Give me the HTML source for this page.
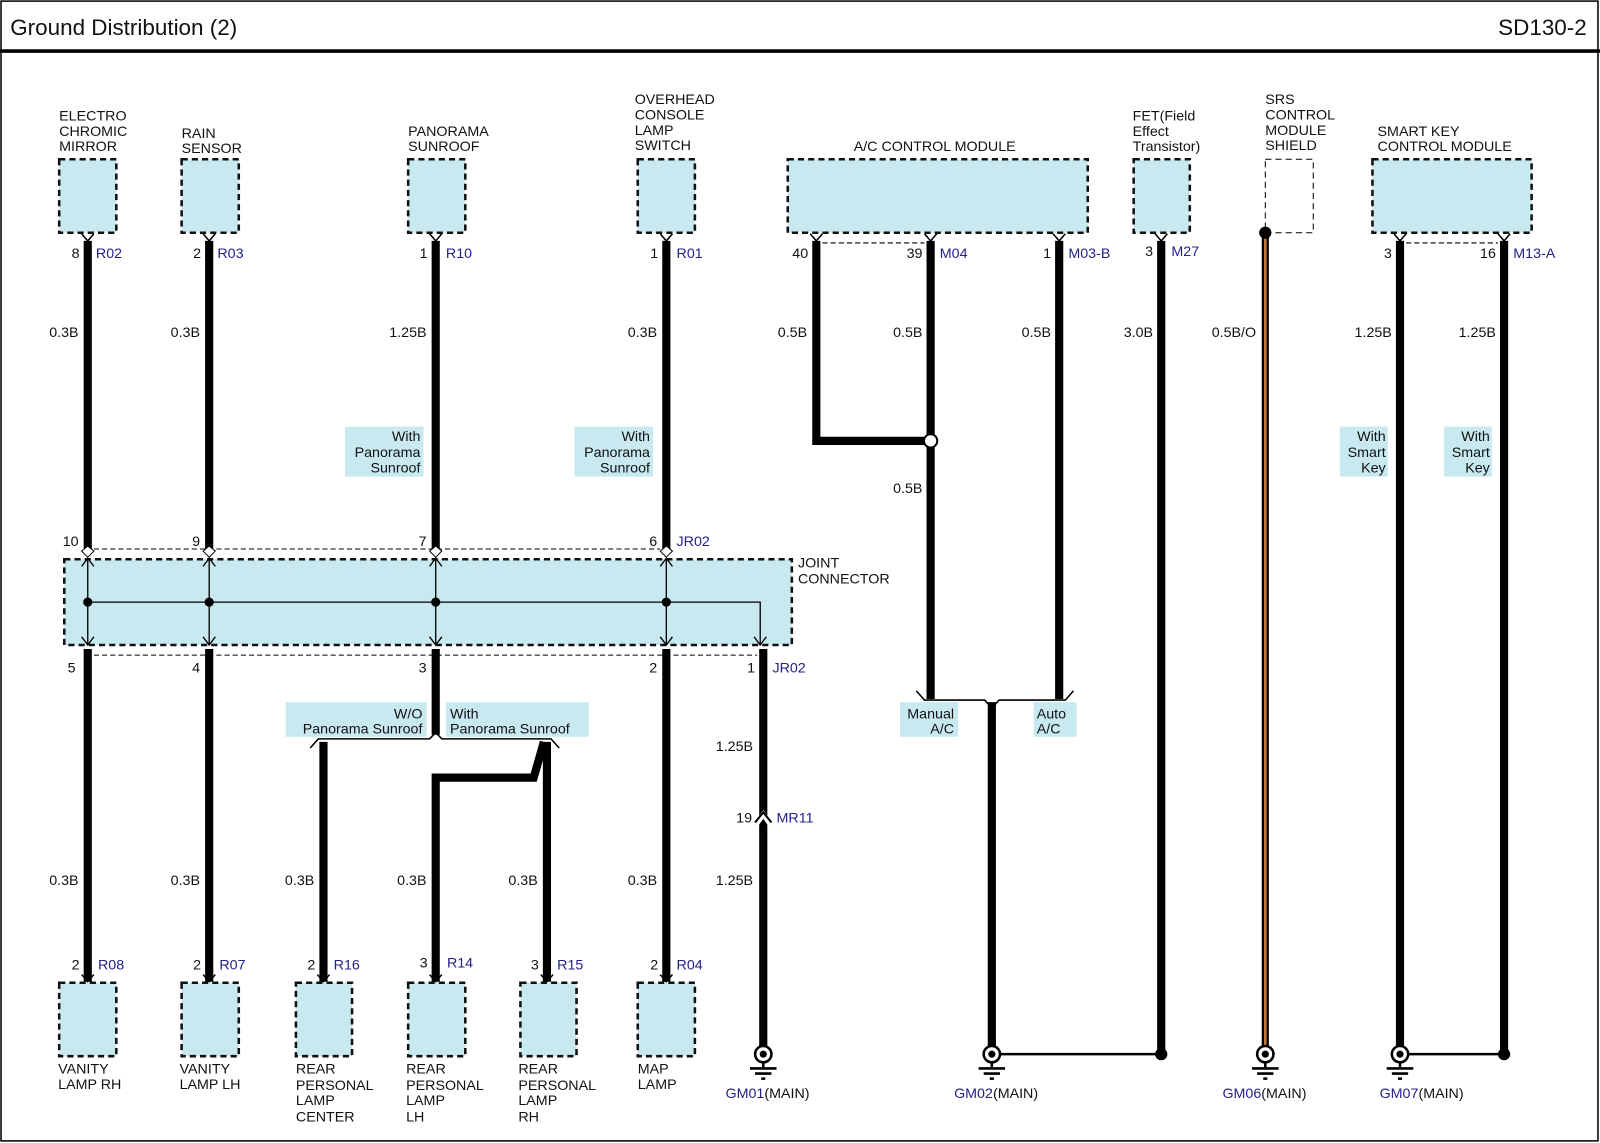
<!DOCTYPE html>
<html><head><meta charset="utf-8"><style>
html,body{margin:0;padding:0;background:#fff}
svg{display:block}
text{font-family:"Liberation Sans",Arial,sans-serif;font-size:14px;fill:#111}
.b{fill:#22228a}
.r{text-anchor:end}
.m{text-anchor:middle}
.box{fill:#c9e9f1;stroke:#111;stroke-width:2.5;stroke-dasharray:6,4}
.lb{fill:#c9e9f1}
.w{stroke:#000;stroke-width:8;fill:none}
.t{stroke:#000;stroke-width:1.3;fill:none}
.dl{stroke:#000;stroke-width:1;stroke-dasharray:5,3;fill:none}
</style></head><body>
<svg width="1600" height="1143" viewBox="0 0 1568 1120" xmlns="http://www.w3.org/2000/svg">
<rect x="1" y="1" width="1565" height="1117" fill="none" stroke="#000" stroke-width="1.5"/>
<line x1="0" y1="50" x2="1568" y2="50" stroke="#000" stroke-width="3.5"/>
<text x="10" y="34" style="font-size:22px">Ground Distribution (2)</text>
<text x="1555" y="34" class="r" style="font-size:22px">SD130-2</text>

<!-- top components -->
<g>
<text x="58" y="118">ELECTRO</text><text x="58" y="133">CHROMIC</text><text x="58" y="148">MIRROR</text>
<rect class="box" x="58" y="156" width="56" height="72"/>
<text x="178" y="135">RAIN</text><text x="178" y="150">SENSOR</text>
<rect class="box" x="178" y="156" width="56" height="72"/>
<text x="400" y="133">PANORAMA</text><text x="400" y="148">SUNROOF</text>
<rect class="box" x="400" y="156" width="56" height="72"/>
<text x="622" y="102">OVERHEAD</text><text x="622" y="117">CONSOLE</text><text x="622" y="132">LAMP</text><text x="622" y="147">SWITCH</text>
<rect class="box" x="625" y="156" width="56" height="72"/>
<text x="916" y="148" class="m">A/C CONTROL MODULE</text>
<rect class="box" x="772" y="156" width="294" height="72"/>
<text x="1110" y="118">FET(Field</text><text x="1110" y="133">Effect</text><text x="1110" y="148">Transistor)</text>
<rect class="box" x="1111" y="156" width="55" height="72"/>
<text x="1240" y="102">SRS</text><text x="1240" y="117">CONTROL</text><text x="1240" y="132">MODULE</text><text x="1240" y="147">SHIELD</text>
<rect x="1240" y="156" width="47" height="72" fill="#fff" stroke="#000" stroke-width="1" stroke-dasharray:="" style="stroke-dasharray:6,4"/>
<text x="1350" y="133">SMART KEY</text><text x="1350" y="148">CONTROL MODULE</text>
<rect class="box" x="1345" y="156" width="156" height="72"/>
</g>

<!-- top pin chevrons -->
<g class="t" style="stroke-width:1.5">
<path d="M80,229 L86,236 L92,229"/><path d="M199,229 L205,236 L211,229"/><path d="M421,229 L427,236 L433,229"/><path d="M647,229 L653,236 L659,229"/>
<path d="M794,229 L800,236 L806,229"/><path d="M906,229 L912,236 L918,229"/><path d="M1032,229 L1038,236 L1044,229"/><path d="M1132,229 L1138,236 L1144,229"/>
<path d="M1366,229 L1372,236 L1378,229"/><path d="M1468,229 L1474,236 L1480,229"/>
</g>
<path class="dl" d="M806,238 H906 M1378,238 H1468"/>

<!-- pin labels top -->
<text x="78" y="253" class="r">8</text><text x="94" y="253" class="b">R02</text>
<text x="197" y="253" class="r">2</text><text x="213" y="253" class="b">R03</text>
<text x="419" y="253" class="r">1</text><text x="437" y="253" class="b">R10</text>
<text x="645" y="253" class="r">1</text><text x="663" y="253" class="b">R01</text>
<text x="792" y="253" class="r">40</text>
<text x="904" y="253" class="r">39</text><text x="921" y="253" class="b">M04</text>
<text x="1030" y="253" class="r">1</text><text x="1047" y="253" class="b">M03-B</text>
<text x="1130" y="251" class="r">3</text><text x="1148" y="251" class="b">M27</text>
<text x="1364" y="253" class="r">3</text>
<text x="1466" y="253" class="r">16</text><text x="1483" y="253" class="b">M13-A</text>

<!-- wire size labels -->
<text x="77" y="330" class="r">0.3B</text><text x="196" y="330" class="r">0.3B</text><text x="418" y="330" class="r">1.25B</text><text x="644" y="330" class="r">0.3B</text>
<text x="791" y="330" class="r">0.5B</text><text x="904" y="330" class="r">0.5B</text><text x="1030" y="330" class="r">0.5B</text><text x="1130" y="330" class="r">3.0B</text>
<text x="1231" y="330" class="r">0.5B/O</text><text x="1364" y="330" class="r">1.25B</text><text x="1466" y="330" class="r">1.25B</text>
<text x="904" y="483" class="r">0.5B</text>

<!-- option boxes -->
<rect class="lb" x="338" y="418" width="77" height="49"/>
<text x="412" y="432" class="r">With</text><text x="412" y="448" class="r">Panorama</text><text x="412" y="463" class="r">Sunroof</text>
<rect class="lb" x="563" y="418" width="77" height="49"/>
<text x="637" y="432" class="r">With</text><text x="637" y="448" class="r">Panorama</text><text x="637" y="463" class="r">Sunroof</text>
<rect class="lb" x="1313" y="418" width="47" height="49"/>
<text x="1358" y="432" class="r">With</text><text x="1358" y="448" class="r">Smart</text><text x="1358" y="463" class="r">Key</text>
<rect class="lb" x="1415" y="418" width="47" height="49"/>
<text x="1460" y="432" class="r">With</text><text x="1460" y="448" class="r">Smart</text><text x="1460" y="463" class="r">Key</text>

<!-- top wires -->
<path class="w" d="M86,236 V540 M205,236 V540 M427,236 V540 M653,236 V540"/>
<path class="w" d="M800,236 V432 H912"/>
<path class="w" d="M912,236 V685 M1038,236 V685 M1138,236 V1033 M1372,236 V1033 M1474,236 V1033 M972,688 V1033"/>
<line x1="1240" y1="228" x2="1240" y2="1030" stroke="#000" stroke-width="7"/>
<line x1="1240" y1="228" x2="1240" y2="1030" stroke="#c87a3e" stroke-width="2.5"/>
<circle cx="1240" cy="228" r="6" fill="#000"/>
<circle cx="912" cy="432" r="6.5" fill="#fff" stroke="#000" stroke-width="2"/>

<!-- A/C bracket -->
<path class="t" style="stroke-width:1.5" d="M898,677 L906,686 H965 L972,694 L979,686 H1044 L1052,677"/>
<rect class="lb" x="882" y="688" width="57" height="34"/>
<text x="935" y="704" class="r">Manual</text><text x="935" y="719" class="r">A/C</text>
<rect class="lb" x="1013" y="688" width="42" height="34"/>
<text x="1016" y="704">Auto</text><text x="1016" y="719">A/C</text>

<!-- joint connector -->
<text x="782" y="556">JOINT</text><text x="782" y="572">CONNECTOR</text>
<path class="dl" d="M92,538 H647 M92,642 H742"/>
<rect class="box" x="63" y="548" width="713" height="84"/>
<text x="77" y="535" class="r">10</text><text x="196" y="535" class="r">9</text><text x="418" y="535" class="r">7</text><text x="644" y="535" class="r">6</text><text x="663" y="535" class="b">JR02</text>
<text x="74" y="659" class="r">5</text><text x="196" y="659" class="r">4</text><text x="418" y="659" class="r">3</text><text x="644" y="659" class="r">2</text><text x="740" y="659" class="r">1</text><text x="757" y="659" class="b">JR02</text>
<g class="t">
<path d="M86,548 V632 M205,548 V632 M427,548 V632 M653,548 V632 M86,590 H745 V632"/>
<path d="M80,555 L86,547 L92,555 M199,555 L205,547 L211,555 M421,555 L427,547 L433,555 M647,555 L653,547 L659,555"/>
<path d="M80,624 L86,632 L92,624 M199,624 L205,632 L211,624 M421,624 L427,632 L433,624 M647,624 L653,632 L659,624 M739,624 L745,632 L751,624"/>
</g>
<g fill="#000"><circle cx="86" cy="590" r="4.5"/><circle cx="205" cy="590" r="4.5"/><circle cx="427" cy="590" r="4.5"/><circle cx="653" cy="590" r="4.5"/></g>
<g fill="#fff" stroke="#000" stroke-width="1">
<path d="M80,540 L86,535 L92,540 L86,546Z"/><path d="M199,540 L205,535 L211,540 L205,546Z"/><path d="M421,540 L427,535 L433,540 L427,546Z"/><path d="M647,540 L653,535 L659,540 L653,546Z"/>
</g>

<!-- bottom wires -->
<path class="w" d="M86,636 V962 M205,636 V962 M653,636 V962 M427,636 V720 M748,636 V1033"/>
<path class="w" d="M317,727 V962 M536,727 V962 M533,727 L523,762 H427 V962"/>
<path class="t" style="stroke-width:1.5" d="M304,733 L312,724 H421 L427,718 L433,724 H540 L548,733"/>
<rect class="lb" x="280" y="688" width="138" height="34"/>
<text x="414" y="704" class="r">W/O</text><text x="414" y="719" class="r">Panorama Sunroof</text>
<rect class="lb" x="437" y="688" width="140" height="34"/>
<text x="441" y="704">With</text><text x="441" y="719">Panorama Sunroof</text>
<!-- MR11 -->
<path d="M741,808 L748,798 L755,808" fill="none" stroke="#fff" stroke-width="5"/>
<path d="M740,806 L748,796 L756,806" fill="none" stroke="#000" stroke-width="2"/>
<text x="737" y="806" class="r">19</text><text x="761" y="806" class="b">MR11</text>
<text x="738" y="736" class="r">1.25B</text><text x="738" y="867" class="r">1.25B</text>

<text x="77" y="867" class="r">0.3B</text><text x="196" y="867" class="r">0.3B</text><text x="308" y="867" class="r">0.3B</text><text x="418" y="867" class="r">0.3B</text><text x="527" y="867" class="r">0.3B</text><text x="644" y="867" class="r">0.3B</text>

<!-- bottom pin labels -->
<text x="78" y="950" class="r">2</text><text x="96" y="950" class="b">R08</text>
<text x="197" y="950" class="r">2</text><text x="215" y="950" class="b">R07</text>
<text x="309" y="950" class="r">2</text><text x="327" y="950" class="b">R16</text>
<text x="419" y="948" class="r">3</text><text x="438" y="948" class="b">R14</text>
<text x="528" y="950" class="r">3</text><text x="546" y="950" class="b">R15</text>
<text x="645" y="950" class="r">2</text><text x="663" y="950" class="b">R04</text>
<g class="t" style="stroke-width:1.5">
<path d="M80,955 L86,962 L92,955 M199,955 L205,962 L211,955 M311,955 L317,962 L323,955 M421,955 L427,962 L433,955 M530,955 L536,962 L542,955 M647,955 L653,962 L659,955"/>
</g>
<rect class="box" x="58" y="963" width="56" height="72"/>
<rect class="box" x="178" y="963" width="56" height="72"/>
<rect class="box" x="290" y="963" width="55" height="72"/>
<rect class="box" x="400" y="963" width="56" height="72"/>
<rect class="box" x="510" y="963" width="55" height="72"/>
<rect class="box" x="625" y="963" width="56" height="72"/>
<text x="57" y="1052">VANITY</text><text x="57" y="1067">LAMP RH</text>
<text x="176" y="1052">VANITY</text><text x="176" y="1067">LAMP LH</text>
<text x="290" y="1052">REAR</text><text x="290" y="1068">PERSONAL</text><text x="290" y="1083">LAMP</text><text x="290" y="1099">CENTER</text>
<text x="398" y="1052">REAR</text><text x="398" y="1068">PERSONAL</text><text x="398" y="1083">LAMP</text><text x="398" y="1099">LH</text>
<text x="508" y="1052">REAR</text><text x="508" y="1068">PERSONAL</text><text x="508" y="1083">LAMP</text><text x="508" y="1099">RH</text>
<text x="625" y="1052">MAP</text><text x="625" y="1067">LAMP</text>

<!-- ground tie lines -->
<path class="t" style="stroke-width:2.5" d="M972,1033 H1138 M1372,1033 H1474"/>
<circle cx="1138" cy="1033" r="6" fill="#000"/><circle cx="1474" cy="1033" r="6" fill="#000"/>
<!-- grounds -->
<g stroke="#000" fill="none">
<g transform="translate(748,0)"><circle cx="0" cy="1033" r="8" fill="#fff" stroke-width="2.5"/><circle cx="0" cy="1033" r="3.5" fill="#000" stroke="none"/><path d="M0,1041 V1047 M-13,1047 H13 M-8,1052 H8 M-2,1057 H2" stroke-width="2.5"/></g>
<g transform="translate(972,0)"><circle cx="0" cy="1033" r="8" fill="#fff" stroke-width="2.5"/><circle cx="0" cy="1033" r="3.5" fill="#000" stroke="none"/><path d="M0,1041 V1047 M-13,1047 H13 M-8,1052 H8 M-2,1057 H2" stroke-width="2.5"/></g>
<g transform="translate(1240,0)"><circle cx="0" cy="1033" r="8" fill="#fff" stroke-width="2.5"/><circle cx="0" cy="1033" r="3.5" fill="#000" stroke="none"/><path d="M0,1041 V1047 M-13,1047 H13 M-8,1052 H8 M-2,1057 H2" stroke-width="2.5"/></g>
<g transform="translate(1372,0)"><circle cx="0" cy="1033" r="8" fill="#fff" stroke-width="2.5"/><circle cx="0" cy="1033" r="3.5" fill="#000" stroke="none"/><path d="M0,1041 V1047 M-13,1047 H13 M-8,1052 H8 M-2,1057 H2" stroke-width="2.5"/></g>
</g>
<text x="711" y="1076"><tspan class="b">GM01</tspan>(MAIN)</text>
<text x="935" y="1076"><tspan class="b">GM02</tspan>(MAIN)</text>
<text x="1198" y="1076"><tspan class="b">GM06</tspan>(MAIN)</text>
<text x="1352" y="1076"><tspan class="b">GM07</tspan>(MAIN)</text>
</svg>
</body></html>
